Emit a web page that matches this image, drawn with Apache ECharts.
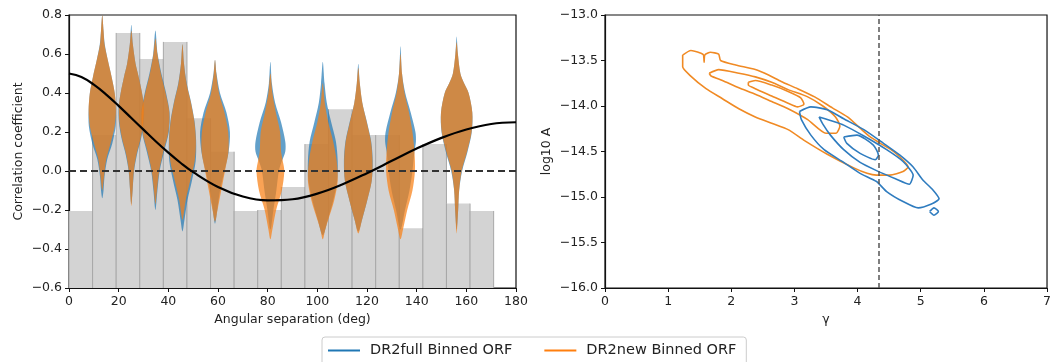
<!DOCTYPE html>
<html><head><meta charset="utf-8">
<script src="https://cdn.jsdelivr.net/npm/echarts@6/dist/echarts.min.js"></script>
<style>html,body{margin:0;padding:0;background:#fff}#c{width:1054px;height:362px}</style>
</head><body><div id="c"></div>
<script>
// ---------- data ----------
const angleTicks = [0, 20, 40, 60, 80, 100, 120, 140, 160, 180];
const corrTicks = [-0.6, -0.4, -0.2, 0.0, 0.2, 0.4, 0.6, 0.8];
const gammaTicks = [0, 1, 2, 3, 4, 5, 6, 7];
const logATicks = [-16.0, -15.5, -15.0, -14.5, -14.0, -13.5, -13.0];

const binEdges = [0, 9.5, 19, 28.5, 38, 47.5, 57, 66.5, 76, 85.5, 95, 104.5, 114, 123.5, 133, 142.5, 152, 161.5, 171];
const binValues = [-0.205, 0.184, 0.708, 0.575, 0.662, 0.27, 0.099, -0.205, -0.2, -0.082, 0.138, 0.317, 0.184, 0.184, -0.293, 0.138, -0.167, -0.205];

const violinX = [13.4, 25.1, 34.8, 45.7, 58.8, 81.1, 102.2, 116.5, 133.5, 156.1];
// each profile: [correlation value, half width (deg)] from top tip to bottom tip
const fullProfiles = [
  [[0.80,0],[0.72,0.5],[0.65,1.0],[0.57,2.2],[0.48,3.8],[0.40,5.0],[0.31,5.5],[0.23,5.4],[0.14,4.0],[0.06,2.0],[-0.03,0.9],[-0.10,0.5],[-0.14,0]],
  [[0.75,0],[0.65,0.6],[0.55,1.7],[0.48,3.0],[0.40,4.3],[0.33,5.1],[0.25,5.0],[0.17,4.0],[0.08,2.2],[0.0,1.1],[-0.1,0.5],[-0.17,0]],
  [[0.72,0],[0.6,0.9],[0.5,2.4],[0.4,4.3],[0.3,5.7],[0.2,5.4],[0.1,3.5],[0.0,1.7],[-0.1,0.8],[-0.2,0]],
  [[0.65,0],[0.55,0.6],[0.45,1.7],[0.35,3.5],[0.25,4.9],[0.15,5.5],[0.05,5.3],[-0.05,3.8],[-0.15,2.0],[-0.25,0.8],[-0.31,0]],
  [[0.57,0],[0.5,0.6],[0.4,2.0],[0.3,4.6],[0.2,6.0],[0.1,5.5],[0.0,3.8],[-0.1,2.0],[-0.2,0.9],[-0.27,0]],
  [[0.56,0],[0.45,0.6],[0.35,1.9],[0.25,4.3],[0.15,6.0],[0.1,6.0],[0.05,4.6],[0.0,3.4],[-0.1,2.4],[-0.2,1.2],[-0.3,0]],
  [[0.56,0],[0.45,0.7],[0.35,1.6],[0.25,3.4],[0.15,5.3],[0.05,6.0],[-0.05,5.8],[-0.15,4.2],[-0.25,2.0],[-0.33,0]],
  [[0.55,0],[0.45,0.6],[0.35,1.6],[0.25,3.5],[0.15,5.2],[0.05,5.8],[-0.05,5.4],[-0.15,3.6],[-0.25,1.5],[-0.31,0]],
  [[0.64,0],[0.5,0.6],[0.4,1.9],[0.3,4.1],[0.2,6.0],[0.15,6.2],[0.1,5.6],[0.0,4.8],[-0.1,3.6],[-0.2,1.8],[-0.3,0]],
  [[0.69,0],[0.6,0.5],[0.5,1.5],[0.45,3.0],[0.4,4.8],[0.3,6.3],[0.2,6.1],[0.1,4.4],[0.0,2.2],[-0.1,1.0],[-0.2,0.6],[-0.3,0]]
];
const newProfiles = [
  [[0.80,0],[0.72,0.5],[0.65,0.9],[0.57,2.2],[0.48,3.8],[0.40,5.0],[0.31,5.5],[0.23,5.0],[0.14,3.3],[0.06,1.6],[-0.03,0.7],[-0.10,0]],
  [[0.72,0],[0.65,0.6],[0.55,1.7],[0.48,3.0],[0.40,4.3],[0.33,5.0],[0.25,4.8],[0.17,3.8],[0.08,2.0],[0.0,1.0],[-0.1,0.5],[-0.18,0]],
  [[0.68,0],[0.6,0.8],[0.5,2.2],[0.4,4.1],[0.3,5.6],[0.2,5.2],[0.1,3.2],[0.0,1.5],[-0.1,0.6],[-0.17,0]],
  [[0.65,0],[0.55,0.6],[0.45,1.6],[0.35,3.4],[0.25,4.8],[0.15,5.4],[0.05,4.9],[-0.05,3.1],[-0.15,1.3],[-0.22,0.5],[-0.25,0]],
  [[0.57,0],[0.5,0.5],[0.4,1.6],[0.3,3.8],[0.2,5.3],[0.1,5.4],[0.0,4.0],[-0.1,2.5],[-0.2,1.0],[-0.26,0]],
  [[0.50,0],[0.4,0.8],[0.3,2.2],[0.2,3.9],[0.1,4.3],[0.05,5.0],[0.0,5.6],[-0.1,4.6],[-0.2,2.3],[-0.3,0.8],[-0.35,0]],
  [[0.45,0],[0.35,0.8],[0.25,2.2],[0.15,4.2],[0.05,5.6],[-0.05,6.0],[-0.15,4.6],[-0.25,2.2],[-0.3,1.0],[-0.35,0]],
  [[0.53,0],[0.45,0.6],[0.35,1.6],[0.25,3.4],[0.15,5.1],[0.05,5.7],[-0.05,5.4],[-0.15,3.6],[-0.25,1.5],[-0.32,0]],
  [[0.60,0],[0.5,0.6],[0.4,1.6],[0.3,3.4],[0.2,4.8],[0.1,5.6],[0.0,5.8],[-0.1,4.8],[-0.2,2.7],[-0.3,1.0],[-0.35,0]],
  [[0.66,0],[0.6,0.5],[0.5,1.5],[0.45,3.0],[0.4,4.8],[0.3,6.3],[0.2,6.0],[0.1,4.2],[0.0,2.0],[-0.1,1.0],[-0.2,0.6],[-0.32,0]]
];

const hdAngles = [0,5,10,15,20,25,30,35,40,45,50,60,70,80,90,100,110,120,130,140,150,160,170,180];
const hdValues = [0.5,0.482,0.443,0.392,0.334,0.273,0.212,0.151,0.094,0.041,-0.006,-0.082,-0.131,-0.151,-0.145,-0.116,-0.069,-0.011,0.052,0.115,0.170,0.213,0.241,0.25];
const zeroLevel = 0;
const gammaRef = 4.33;

const orangeOuter = [[1.23,-13.44],[1.36,-13.39],[1.52,-13.42],[1.56,-13.44],[1.57,-13.52],[1.58,-13.44],[1.67,-13.41],[1.80,-13.43],[1.83,-13.50],[2.07,-13.55],[2.38,-13.60],[2.59,-13.66],[2.79,-13.73],[3.05,-13.81],[3.32,-13.90],[3.60,-14.02],[3.84,-14.12],[4.05,-14.25],[4.20,-14.34],[4.36,-14.41],[4.57,-14.50],[4.80,-14.67],[4.72,-14.72],[4.51,-14.76],[4.30,-14.76],[4.15,-14.74],[3.94,-14.68],[3.52,-14.53],[3.16,-14.38],[2.90,-14.26],[2.64,-14.19],[2.38,-14.12],[2.12,-14.03],[1.86,-13.92],[1.60,-13.81],[1.34,-13.66],[1.23,-13.57],[1.23,-13.44]];
const orangeMid = [[1.65,-13.64],[1.80,-13.60],[2.12,-13.64],[2.38,-13.68],[2.64,-13.74],[2.90,-13.82],[3.21,-13.90],[3.45,-14.00],[3.65,-14.12],[3.72,-14.22],[3.66,-14.30],[3.50,-14.30],[3.21,-14.15],[2.90,-14.03],[2.64,-13.95],[2.38,-13.87],[2.12,-13.80],[1.86,-13.72],[1.68,-13.67],[1.65,-13.64]];
const orangeIn = [[2.27,-13.74],[2.38,-13.72],[2.64,-13.77],[2.90,-13.84],[3.10,-13.91],[3.15,-13.98],[3.05,-14.01],[2.90,-13.97],[2.64,-13.89],[2.38,-13.81],[2.27,-13.77],[2.27,-13.74]];
const blueOuter = [[3.08,-14.06],[3.26,-14.01],[3.52,-14.04],[3.78,-14.14],[4.10,-14.26],[4.41,-14.41],[4.67,-14.54],[4.88,-14.67],[5.03,-14.81],[5.19,-14.92],[5.29,-15.02],[5.16,-15.08],[4.96,-15.12],[4.72,-15.05],[4.46,-14.94],[4.30,-14.83],[4.04,-14.74],[3.78,-14.62],[3.47,-14.48],[3.26,-14.32],[3.11,-14.15],[3.08,-14.06]];
const blueMid = [[3.39,-14.12],[3.57,-14.16],[3.78,-14.21],[4.10,-14.33],[4.46,-14.48],[4.72,-14.61],[4.88,-14.76],[4.82,-14.86],[4.60,-14.80],[4.30,-14.71],[4.04,-14.62],[3.78,-14.48],[3.57,-14.32],[3.45,-14.20],[3.39,-14.12]];
const blueIn = [[3.78,-14.34],[3.99,-14.32],[4.25,-14.43],[4.33,-14.54],[4.28,-14.59],[4.04,-14.52],[3.83,-14.41],[3.78,-14.34]];
const blueIsland = [[5.14,-15.16],[5.21,-15.12],[5.28,-15.16],[5.21,-15.20],[5.14,-15.16]];

const nameFull = 'DR2full Binned ORF';
const nameNew = 'DR2new Binned ORF';

// ---------- chart ----------
const FONT = 'DejaVu Sans';
const fmtMinus = (v, d) => v.toFixed(d).replace('-', '\u2212');
const chart = echarts.init(document.getElementById('c'), null, {renderer: 'canvas'});

function axisCommon() {
  return {
    axisLine: {show: true, onZero: false, lineStyle: {color: '#111', width: 1.2}},
    axisTick: {show: true, inside: false, length: 4, lineStyle: {color: '#111', width: 1}},
    splitLine: {show: false},
    nameTextStyle: {fontFamily: FONT, fontSize: 12.5, color: '#222'}
  };
}

function violinSeries(name, profiles, color, z) {
  return {
    type: 'custom', name: name, xAxisIndex: 0, yAxisIndex: 0, z: z,
    data: violinX.map((x, i) => [x, i]),
    renderItem: function (params, api) {
      const x = api.value(0), i = api.value(1);
      const prof = profiles[i];
      const right = prof.map(p => api.coord([x + p[1], p[0]]));
      const left = prof.slice(1, -1).reverse().map(p => api.coord([x - p[1], p[0]]));
      return {type: 'polygon', shape: {points: right.concat(left), smooth: 0.3},
              style: {fill: color, stroke: null}};
    }
  };
}

function contour(name, pts, color) {
  return {type: 'line', name: name, xAxisIndex: 1, yAxisIndex: 1, data: pts,
          showSymbol: false, symbol: 'none', smooth: 0.2, z: 3,
          lineStyle: {color: color, width: 1.6}, itemStyle: {color: color}};
}

const yMin = corrTicks[0];
const option = {
  animation: false,
  backgroundColor: '#fff',
  grid: [
    {left: 69, top: 15, width: 447, height: 273, show: true, borderColor: '#111', borderWidth: 1.2},
    {left: 605, top: 15, width: 447, height: 273, show: true, borderColor: '#111', borderWidth: 1.2}
  ],
  xAxis: [
    Object.assign(axisCommon(), {type: 'value', gridIndex: 0, min: angleTicks[0], max: angleTicks[angleTicks.length - 1], interval: 20,
      name: 'Angular separation (deg)', nameLocation: 'middle', nameGap: 25,
      axisLabel: {fontFamily: FONT, fontSize: 12.5, color: '#222', margin: 7, formatter: v => String(v)}}),
    Object.assign(axisCommon(), {type: 'value', gridIndex: 1, min: gammaTicks[0], max: gammaTicks[gammaTicks.length - 1], interval: 1,
      name: '\u03b3', nameLocation: 'middle', nameGap: 25,
      axisLabel: {fontFamily: FONT, fontSize: 12.5, color: '#222', margin: 7, formatter: v => String(v)}})
  ],
  yAxis: [
    Object.assign(axisCommon(), {type: 'value', gridIndex: 0, min: yMin, max: corrTicks[corrTicks.length - 1], interval: 0.2,
      name: 'Correlation coefficient', nameLocation: 'middle', nameGap: 44,
      axisLabel: {fontFamily: FONT, fontSize: 12.5, color: '#222', margin: 7, formatter: v => fmtMinus(v, 1)}}),
    Object.assign(axisCommon(), {type: 'value', gridIndex: 1, min: logATicks[0], max: logATicks[logATicks.length - 1], interval: 0.5,
      name: 'log10 A', nameLocation: 'middle', nameGap: 52,
      axisLabel: {fontFamily: FONT, fontSize: 12.5, color: '#222', margin: 7, formatter: v => fmtMinus(v, 1)}})
  ],
  legend: {
    left: 322, top: 337,
    data: [
      {name: nameFull, icon: 'rect', itemStyle: {color: '#1f77b4'}},
      {name: nameNew, icon: 'rect', itemStyle: {color: '#ff7f0e'}}
    ],
    itemWidth: 32, itemHeight: 2, itemGap: 32,
    padding: [6, 10, 8, 6],
    borderColor: '#cccccc', borderWidth: 1, borderRadius: 3,
    textStyle: {fontFamily: FONT, fontSize: 14.5, color: '#222', padding: [0, 0, 0, 5]}
  },
  series: [
    {
      type: 'custom', name: 'bins', xAxisIndex: 0, yAxisIndex: 0, z: 1, silent: true,
      data: binValues.map((v, i) => [binEdges[i], binEdges[i + 1], v]),
      renderItem: function (params, api) {
        const p1 = api.coord([api.value(0), api.value(2)]);
        const p2 = api.coord([api.value(1), yMin]);
        return {type: 'group', children: [
          {type: 'rect', shape: {x: p1[0], y: p1[1], width: p2[0] - p1[0], height: p2[1] - p1[1]}, style: {fill: '#d3d3d3'}},
          {type: 'line', shape: {x1: p1[0], y1: p1[1], x2: p1[0], y2: p2[1]}, style: {stroke: '#a8a8a8', lineWidth: 1}},
          {type: 'line', shape: {x1: p2[0], y1: p1[1], x2: p2[0], y2: p2[1]}, style: {stroke: '#a8a8a8', lineWidth: 1}}
        ]};
      }
    },
    violinSeries(nameFull, fullProfiles, 'rgba(31,119,180,0.7)', 2),
    violinSeries(nameNew, newProfiles, 'rgba(248,128,20,0.72)', 3),
    {
      type: 'line', name: 'HD', xAxisIndex: 0, yAxisIndex: 0, z: 5,
      data: hdAngles.map((a, i) => [a, hdValues[i]]),
      showSymbol: false, symbol: 'none', smooth: 0.4,
      lineStyle: {color: '#000', width: 2.2},
      markLine: {silent: true, symbol: 'none', label: {show: false}, z: 4,
        lineStyle: {color: '#333', type: [7, 4], width: 1.8},
        data: [{yAxis: zeroLevel}]}
    },
    contour(nameNew, orangeOuter, '#f08a24'),
    contour(nameNew, orangeMid, '#f08a24'),
    contour(nameNew, orangeIn, '#f08a24'),
    contour(nameFull, blueOuter, '#2f7cbf'),
    contour(nameFull, blueMid, '#2f7cbf'),
    contour(nameFull, blueIn, '#2f7cbf'),
    contour(nameFull, blueIsland, '#2f7cbf'),
    {
      type: 'line', name: 'gamma', xAxisIndex: 1, yAxisIndex: 1, data: [], z: 4,
      markLine: {silent: true, symbol: 'none', label: {show: false},
        lineStyle: {color: '#555', type: [5, 3], width: 1.5},
        data: [{xAxis: gammaRef}]}
    }
  ]
};
chart.setOption(option);
</script>
</body></html>
